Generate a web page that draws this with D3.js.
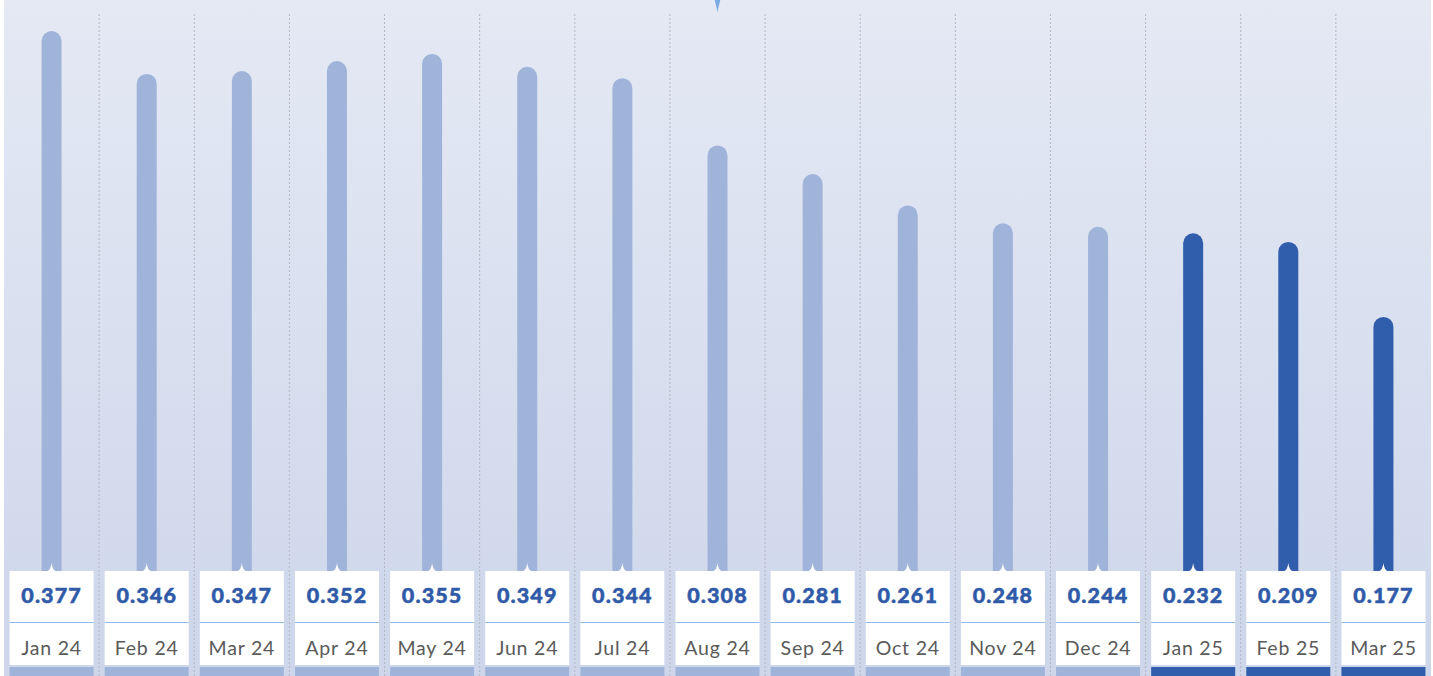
<!DOCTYPE html>
<html>
<head>
<meta charset="utf-8">
<script src="https://cdn.jsdelivr.net/npm/d3@7"></script>
<style>
  html, body { margin: 0; padding: 0; background: #ffffff; }
  svg { display: block; }
</style>
</head>
<body>
<svg id="chart" width="1433" height="676"></svg>
<script>
// ---- data ----
const months = ["Jan 24","Feb 24","Mar 24","Apr 24","May 24","Jun 24","Jul 24","Aug 24","Sep 24","Oct 24","Nov 24","Dec 24","Jan 25","Feb 25","Mar 25"];
const labelValues = [0.377,0.346,0.347,0.352,0.355,0.349,0.344,0.308,0.281,0.261,0.248,0.244,0.232,0.209,0.177];
// bar heights as drawn in the picture (same units)
const barLevels = [0.377,0.347,0.349,0.356,0.361,0.352,0.344,0.297,0.277,0.255,0.2425,0.240,0.2355,0.2295,0.177];
const highlighted = [false,false,false,false,false,false,false,false,false,false,false,false,true,true,true];
const markerMonth = "Aug 24";

// ---- layout ----
const W = 1433, H = 676;
const svg = d3.select("#chart");
const panelX0 = 4, panelX1 = 1431;
const baseY = 570, boxTop = 571, boxBottom = 665;

const defs = svg.append("defs");
const grad = defs.append("linearGradient").attr("id","bg").attr("x1",0).attr("y1",0).attr("x2",0).attr("y2",1);
grad.append("stop").attr("offset","0%").attr("stop-color","#e4e9f4");
grad.append("stop").attr("offset","100%").attr("stop-color","#cdd6ea");

svg.append("rect").attr("x",panelX0).attr("y",0).attr("width",panelX1-panelX0).attr("height",H).attr("fill","url(#bg)");

const x = d3.scaleBand().domain(months).range([panelX0, panelX1]).padding(0);
const y = d3.scaleLinear().domain([0, d3.max(barLevels)]).range([baseY, 31]);
const bw = x.bandwidth();

const lightC = "#a0b4da", darkC = "#305dac";
const colorOf = i => highlighted[i] ? darkC : lightC;

// dotted separators
svg.append("g").selectAll("line").data(months.slice(1)).join("line")
  .attr("x1", d => x(d)).attr("x2", d => x(d))
  .attr("y1", 14).attr("y2", H)
  .attr("stroke", "#b3b8c4").attr("stroke-width", 1).attr("stroke-dasharray", "2,2");

// bars
const barW = 20;
svg.append("g").selectAll("rect").data(months).join("rect")
  .attr("x", d => x(d) + bw/2 - barW/2)
  .attr("y", (d,i) => y(barLevels[i]))
  .attr("width", barW)
  .attr("height", (d,i) => boxTop + 10 - y(barLevels[i]))
  .attr("rx", barW/2)
  .attr("fill", (d,i) => colorOf(i));

// label boxes
const boxW = 84;
const g = svg.append("g").selectAll("g").data(months).join("g")
  .attr("transform", d => `translate(${x(d) + bw/2},0)`);

g.append("rect")
  .attr("x", -boxW/2).attr("y", boxTop)
  .attr("width", boxW).attr("height", boxBottom - boxTop)
  .attr("fill", "#ffffff");

// pointer tip into the bar
g.append("path")
  .attr("d", `M-5,${boxTop+0.5} Q-0.8,${boxTop-0.5} 0,${boxTop-8} Q0.8,${boxTop-0.5} 5,${boxTop+0.5} Z`)
  .attr("fill", "#ffffff");

g.append("line")
  .attr("x1", -boxW/2).attr("x2", boxW/2)
  .attr("y1", 622.5).attr("y2", 622.5)
  .attr("stroke", "#8fbbea").attr("stroke-width", 1.2);

g.append("text")
  .attr("x", 0).attr("y", 603)
  .attr("text-anchor", "middle")
  .attr("font-family", "Lato, 'Open Sans', sans-serif")
  .attr("font-weight", 900)
  .attr("font-size", 21.5)
  .attr("letter-spacing", 1.1)
  .attr("stroke", "#2f5aa8").attr("stroke-width", 0.5)
  .attr("fill", "#2f5aa8")
  .text((d,i) => labelValues[i].toFixed(3));

g.append("text")
  .attr("x", 0).attr("y", 655)
  .attr("text-anchor", "middle")
  .attr("font-family", "Lato, 'Open Sans', sans-serif")
  .attr("font-weight", 400)
  .attr("font-size", 19.5)
  .attr("letter-spacing", 0.8)
  .attr("fill", "#5a5a5a")
  .text(d => d);

// bottom strips
g.append("rect")
  .attr("x", -boxW/2).attr("y", 667)
  .attr("width", boxW).attr("height", H - 667)
  .attr("fill", (d,i) => colorOf(i));

// top marker
const mx = x(markerMonth) + bw/2;
svg.append("path")
  .attr("d", `M${mx-2.8},0 L${mx+2.8},0 L${mx+0.6},9 L${mx},12.5 L${mx-0.6},9 Z`)
  .attr("fill", "#7aaae2");
</script>
</body>
</html>
